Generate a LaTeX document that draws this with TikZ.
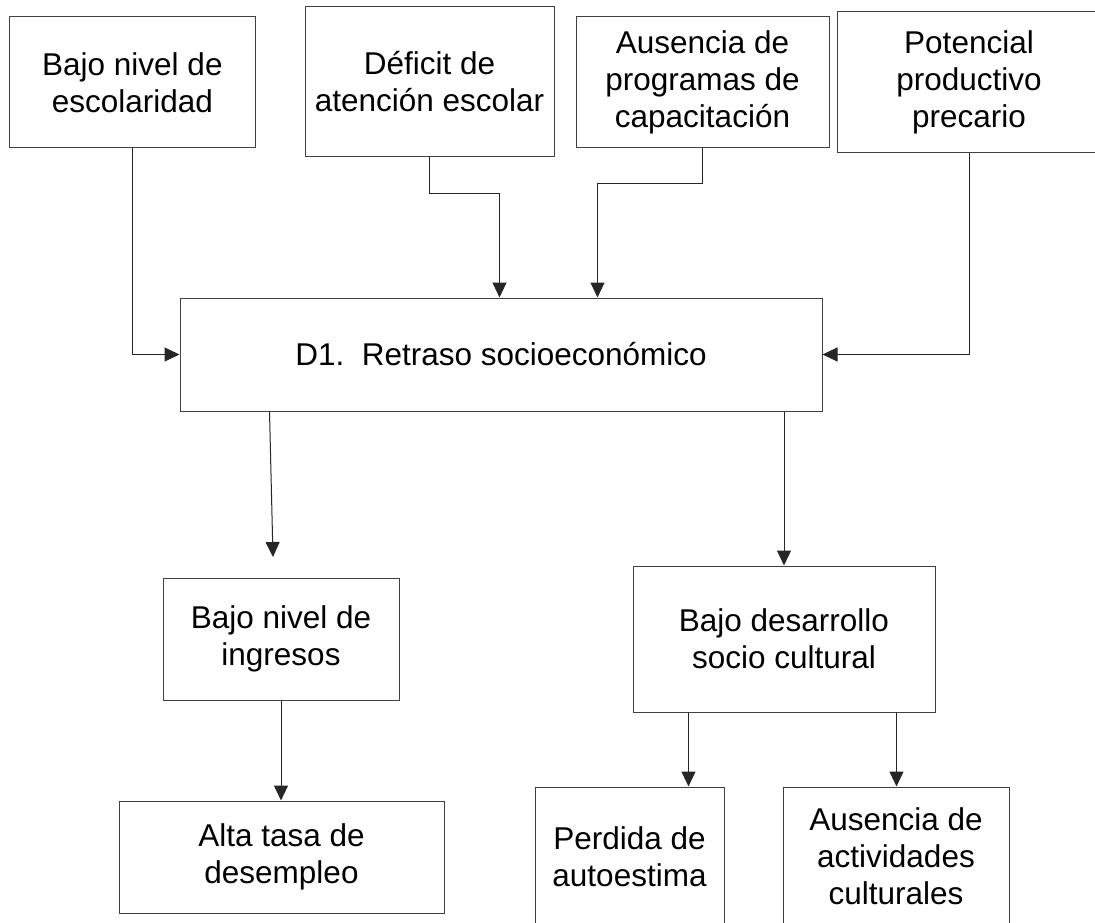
\documentclass[tikz,border=0pt]{standalone}
\usepackage{fontspec}
\setmainfont{Liberation Sans}
\usetikzlibrary{arrows.meta,calc}
\begin{document}
\begin{tikzpicture}[x=1pt,y=-1pt,
  box/.style={draw=black!75, line width=1pt, fill=white, align=center, inner sep=0pt,
    font=\fontsize{31.5}{37}\selectfont},
  arr/.style={draw=black!85, line width=1pt, -{Triangle[length=15pt,width=14pt]}}]
\useasboundingbox (0,0) rectangle (1095,923);
% top row
\node[box, minimum width=246.7pt, minimum height=131pt] (b1) at (132.4,82.5) {Bajo nivel de\\escolaridad};
\node[box, minimum width=249pt, minimum height=150pt] (b2) at (429.5,82) {Déficit de\\atención escolar};
\node[box, minimum width=253pt, minimum height=131pt] (b3) at (702.5,82.5) {Ausencia de\\programas de\\capacitación};
\node[box, minimum width=264pt, minimum height=141pt] (b4) at (969,82.5) {Potencial\\productivo\\precario};
% central
\node[box, minimum width=642pt, minimum height=113pt] (b5) at (501,354.5) {D1.\ \ Retraso socioeconómico};
% middle row
\node[box, minimum width=236pt, minimum height=122pt] (b6) at (281,639) {Bajo nivel de\\ingresos};
\node[box, minimum width=302pt, minimum height=146pt] (b7) at (784,639) {Bajo desarrollo\\socio cultural};
% bottom row
\node[box, minimum width=325pt, minimum height=112pt] (b8) at (281.5,857) {Alta tasa de\\desempleo};
\node[box, minimum width=189pt, minimum height=139pt] (b9) at (629.5,856.5) {Perdida de\\autoestima};
\node[box, minimum width=226pt, minimum height=139pt] (b10) at (896,856.5) {Ausencia de\\actividades\\culturales};
% connectors into D1
\draw[arr] (b1.south) |- (b5.west);
\draw[arr] (b2.south) -- ++(0,36) -| ($(b5.north west)+(320,0)$);
\draw[arr] (b3.south) -- ++(0,35) -| ($(b5.north west)+(418,0)$);
\draw[arr] (b4.south) |- (b5.east);
% out of D1
\coordinate (s1) at ($(b5.south west)+(90,0)$);
\coordinate (e1) at (273,557);
\draw[arr] (s1) -- (e1);
\draw[arr] (b5.south -| b7.north) -- (b7.north);
\draw[arr] (b6.south) -- (b6.south |- b8.north);
\coordinate (p1) at ($(b7.south west)+(56,0)$);
\coordinate (p2) at ($(b7.south west)+(264,0)$);
\draw[arr] (p1) -- (p1 |- b9.north);
\draw[arr] (p2) -- (p2 |- b10.north);
\end{tikzpicture}
\end{document}
